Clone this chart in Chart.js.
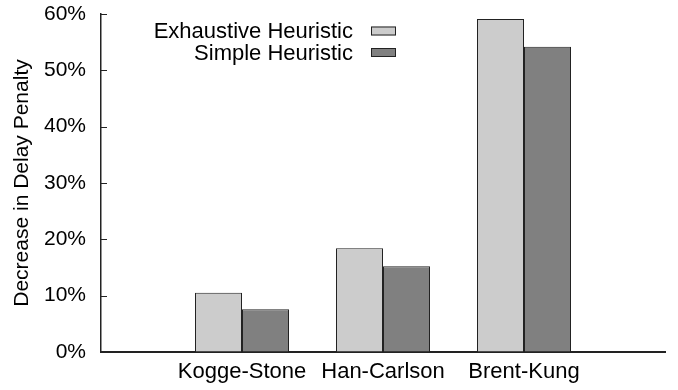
<!DOCTYPE html>
<html>
<head>
<meta charset="utf-8">
<script src="https://cdn.jsdelivr.net/npm/chart.js@4/dist/chart.umd.min.js"></script>
<style>
  html, body { margin: 0; padding: 0; background: #fff; }
  #wrap { width: 678px; height: 390px; position: relative; }
</style>
</head>
<body>
<div id="wrap"><canvas id="c" width="678" height="390"></canvas></div>
<script>
const categories = ['Kogge-Stone', 'Han-Carlson', 'Brent-Kung'];
const exhaustive = [10.5, 18.4, 59.1];
const simple = [7.6, 15.2, 54.2];
const seriesNames = ['Exhaustive Heuristic', 'Simple Heuristic'];
const yTicks = [0, 10, 20, 30, 40, 50, 60];

const FONT = "'Liberation Sans', Arial, sans-serif";
const AXIS = '#222';

const innerTicks = {
  id: 'innerTicks',
  afterDraw(chart) {
    const ctx = chart.ctx, y = chart.scales.y, a = chart.chartArea;
    ctx.save();
    ctx.strokeStyle = AXIS;
    ctx.lineWidth = 1;
    y.ticks.forEach(t => {
      const py = Math.round(y.getPixelForValue(t.value)) + 0.5;
      ctx.beginPath();
      ctx.moveTo(a.left, py);
      ctx.lineTo(a.left + 6, py);
      ctx.stroke();
    });
    ctx.restore();
  }
};

const insideLegend = {
  id: 'insideLegend',
  afterDraw(chart) {
    const ctx = chart.ctx, a = chart.chartArea;
    ctx.save();
    ctx.font = '22px ' + FONT;
    ctx.textAlign = 'right';
    ctx.textBaseline = 'middle';
    chart.data.datasets.forEach((ds, i) => {
      const cy = a.top + 17 + i * 21.5;
      const boxRight = a.left + 295;
      const boxW = 25, boxH = 9;
      ctx.fillStyle = '#000';
      ctx.fillText(ds.label, boxRight - boxW - 18, cy + 1);
      ctx.fillStyle = ds.backgroundColor;
      ctx.fillRect(boxRight - boxW, cy - boxH / 2, boxW, boxH);
      ctx.strokeStyle = ds.borderColor;
      ctx.lineWidth = 1;
      ctx.strokeRect(boxRight - boxW + 0.5, cy - boxH / 2 + 0.5, boxW - 1, boxH - 1);
    });
    ctx.restore();
  }
};

new Chart(document.getElementById('c'), {
  type: 'bar',
  data: {
    datasets: [
      {
        label: seriesNames[0],
        data: categories.map((c, i) => ({ x: i, y: exhaustive[i] })),
        backgroundColor: '#cccccc',
        borderColor: '#222222',
        borderWidth: 1
      },
      {
        label: seriesNames[1],
        data: categories.map((c, i) => ({ x: i, y: simple[i] })),
        backgroundColor: '#808080',
        borderColor: '#222222',
        borderWidth: 1
      }
    ]
  },
  options: {
    responsive: false,
    animation: false,
    devicePixelRatio: 1,
    categoryPercentage: 2 / 3,
    barPercentage: 1,
    layout: { padding: { left: 10, right: 13, top: 14, bottom: 0 } },
    plugins: {
      legend: { display: false },
      tooltip: { enabled: false }
    },
    scales: {
      x: {
        type: 'linear',
        min: -1,
        max: 3,
        offset: false,
        afterBuildTicks: s => { s.ticks = categories.map((c, i) => ({ value: i })); },
        afterFit: s => { s.height = 38; s.paddingLeft = 0; s.paddingRight = 0; },
        grid: { display: false, drawTicks: false },
        border: { display: true, color: AXIS, width: 2 },
        ticks: {
          color: '#000',
          font: { family: FONT, size: 22 },
          padding: 7,
          maxRotation: 0,
          autoSkip: false,
          callback: v => categories[v] ?? ''
        }
      },
      y: {
        min: 0,
        max: 60,
        afterBuildTicks: s => { s.ticks = yTicks.map(v => ({ value: v })); },
        afterFit: s => { s.width = 91; s.paddingTop = 0; s.paddingBottom = 0; },
        grid: { drawOnChartArea: false, drawTicks: false },
        border: { display: true, color: AXIS, width: 1.5 },
        ticks: {
          color: '#000',
          font: { family: FONT, size: 21 },
          padding: 15,
          callback: v => v + '%'
        },
        title: {
          display: true,
          text: 'Decrease in Delay Penalty',
          color: '#000',
          font: { family: FONT, size: 21 },
          padding: { top: 0, bottom: 0 }
        }
      }
    }
  },
  plugins: [innerTicks, insideLegend]
});
</script>
</body>
</html>
